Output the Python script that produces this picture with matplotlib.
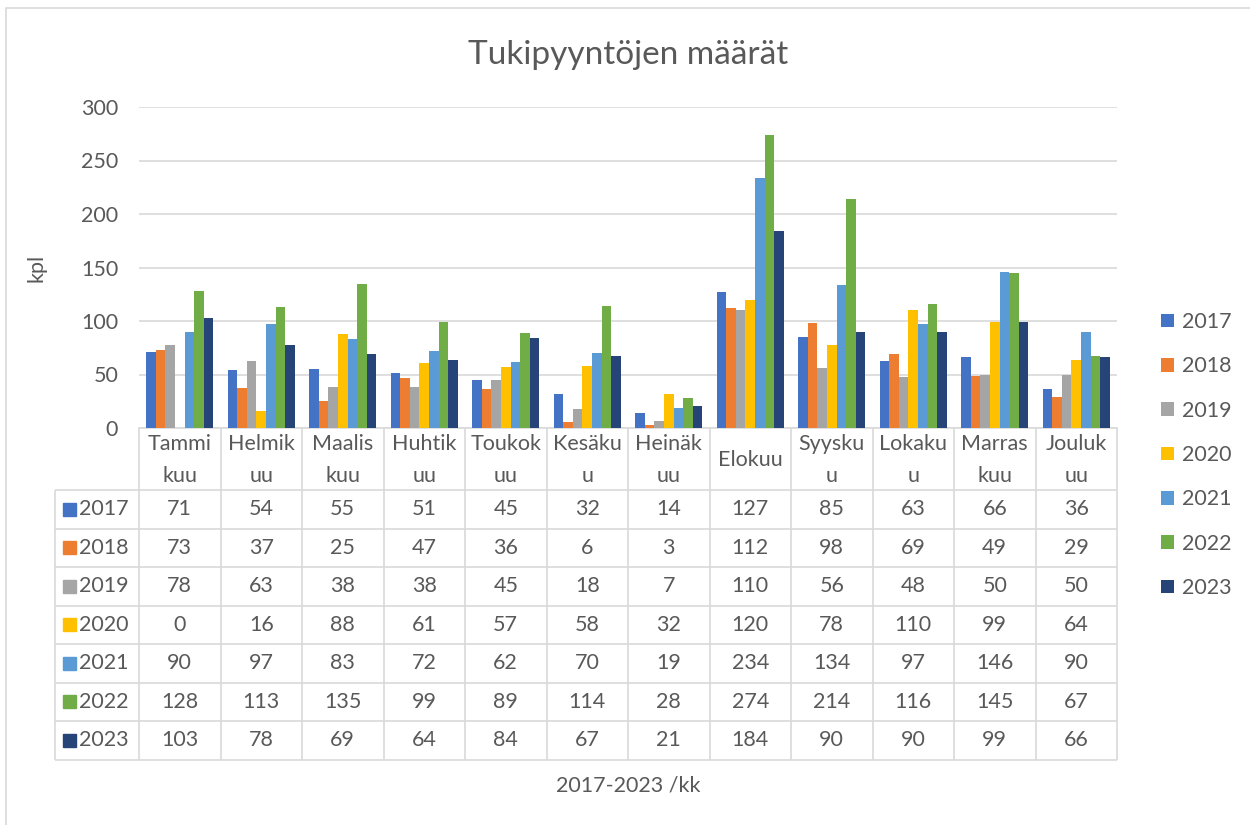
import numpy as np
import matplotlib
matplotlib.use("Agg")
import matplotlib.pyplot as plt
from matplotlib.patches import Rectangle

plt.rcParams['font.family'] = ['Lato', 'DejaVu Sans']

months = ["Tammi\nkuu", "Helmik\nuu", "Maalis\nkuu", "Huhtik\nuu", "Toukok\nuu", "Kesäku\nu",
          "Heinäk\nuu", "Elokuu", "Syysku\nu", "Lokaku\nu", "Marras\nkuu", "Jouluk\nuu"]
years = ["2017", "2018", "2019", "2020", "2021", "2022", "2023"]
v2017 = [71, 54, 55, 51, 45, 32, 14, 127, 85, 63, 66, 36]
v2018 = [73, 37, 25, 47, 36, 6, 3, 112, 98, 69, 49, 29]
v2019 = [78, 63, 38, 38, 45, 18, 7, 110, 56, 48, 50, 50]
v2020 = [0, 16, 88, 61, 57, 58, 32, 120, 78, 110, 99, 64]
v2021 = [90, 97, 83, 72, 62, 70, 19, 234, 134, 97, 146, 90]
v2022 = [128, 113, 135, 99, 89, 114, 28, 274, 214, 116, 145, 67]
v2023 = [103, 78, 69, 64, 84, 67, 21, 184, 90, 90, 99, 66]
series = [v2017, v2018, v2019, v2020, v2021, v2022, v2023]
colors = ["#4472C4", "#ED7D31", "#A5A5A5", "#FFC000", "#5B9BD5", "#70AD47", "#264478"]

W, H = 1250, 825
fs = 15.5
fig = plt.figure(figsize=(12.5, 8.25), dpi=100)
txt = "#595959"
grid = "#d9d9d9"

# outer chart frame
fig.patches.append(Rectangle((6 / W, -0.01), 1.0, 1 - 8 / H + 0.01, transform=fig.transFigure,
                             fill=False, edgecolor=grid, lw=1.2))

x0, x1, ytop, ybot = 139, 1117, 107, 428
ax = fig.add_axes([x0 / W, 1 - ybot / H, (x1 - x0) / W, (ybot - ytop) / H])
x = np.arange(len(months))
w = 1 / 8.5
bars = []
for j, (vals, c) in enumerate(zip(series, colors)):
    b = ax.bar(x + (j - 3) * w, vals, width=w, color=c, label=years[j], zorder=3)
    bars.append(b)
ax.set_xlim(-0.5, 11.5)
ax.set_ylim(0, 300)
ax.set_yticks(range(0, 301, 50))
ax.set_xticks([])
ax.yaxis.grid(True, color=grid, lw=1.2, zorder=0)
for s in ["top", "right", "left"]:
    ax.spines[s].set_visible(False)
ax.spines["bottom"].set_color(grid)
ax.spines["bottom"].set_linewidth(1.2)
ax.tick_params(axis='y', length=0, pad=15, labelsize=fs, labelcolor=txt)
ax.set_ylabel("kpl", fontsize=fs, color=txt)
ax.yaxis.set_label_coords(-(x0 - 46) / (x1 - x0), 0.5)

fig.text((x0 + x1) / 2 / W, 1 - 55 / H, "Tukipyyntöjen määrät", ha="center", va="center",
         fontsize=24, color=txt)

# data table below the plot
tb = 760
ax2 = fig.add_axes([x0 / W, 1 - tb / H, (x1 - x0) / W, (tb - ybot) / H])
ax2.set_xlim(-0.5, 11.5)
ax2.set_ylim(tb - ybot, 0)
ax2.axis("off")
hdr, rh = 62, 38.5
xl = -0.5 - (x0 - 55) / ((x1 - x0) / 12)
for k in range(13):
    ax2.vlines(-0.5 + k, 0, tb - ybot, color=grid, lw=1.2, clip_on=False)
ax2.vlines(xl, hdr, tb - ybot, color=grid, lw=1.2, clip_on=False)
for i in range(8):
    ax2.hlines(hdr + rh * i, xl, 11.5, color=grid, lw=1.2, clip_on=False)
for k, m in enumerate(months):
    ax2.text(k, hdr / 2 + 1, m, ha="center", va="center", fontsize=fs, color=txt, linespacing=1.7)
for i, (vals, c) in enumerate(zip(series, colors)):
    yc = hdr + rh * (i + 0.5)
    ax2.add_patch(Rectangle((xl + 0.1, yc - 6.5), 0.16, 13, color=c, clip_on=False))
    ax2.text(xl + 0.3, yc, years[i], ha="left", va="center", fontsize=fs, color=txt)
    for k, v in enumerate(vals):
        ax2.text(k, yc, str(v), ha="center", va="center", fontsize=fs, color=txt)

fig.text((x0 + x1) / 2 / W, 1 - 785 / H, "2017-2023 /kk", ha="center", va="center",
         fontsize=fs, color=txt)

fig.legend(handles=bars, loc="center left", bbox_to_anchor=(1142 / W, 1 - 455 / H),
           frameon=False, fontsize=fs, labelcolor=txt, handlelength=0.6, handleheight=0.6,
           handletextpad=0.35, labelspacing=1.13)

fig.savefig("out.png", dpi=100)
